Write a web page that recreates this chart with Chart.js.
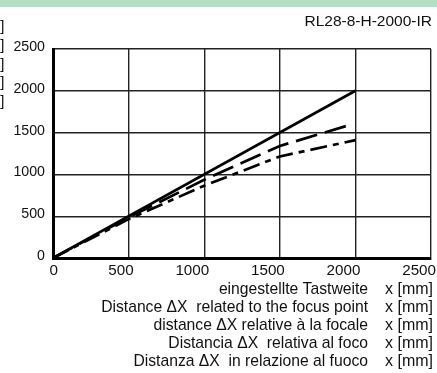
<!DOCTYPE html>
<html>
<head>
<meta charset="utf-8">
<script src="https://cdn.jsdelivr.net/npm/chart.js@4"></script>
<style>
  html, body { margin: 0; padding: 0; background: #fff; }
  #wrap { width: 437px; height: 373px; position: relative; }
</style>
</head>
<body>
<div id="wrap"><canvas id="canvas"></canvas></div>
<script>
const Chart = window.Chart;

const title = "RL28-8-H-2000-IR";

// Kurven
const solidX = [0, 2000];
const solidY = [0, 2000];
const dashX = [0, 500, 1000, 1500, 1960];
const dashY = [0, 485, 935, 1340, 1590];
const dotX = [0, 500, 1000, 1500, 2000];
const dotY = [0, 465, 865, 1215, 1410];

const xTicks = [0, 500, 1000, 1500, 2000, 2500];
const yTicks = [0, 500, 1000, 1500, 2000, 2500];

const xLabels = [
    "eingestellte Tastweite",
    "Distance \u0394X  related to the focus point",
    "distance \u0394X relative \u00e0 la focale",
    "Distancia \u0394X  relativa al foco",
    "Distanza \u0394X  in relazione al fuoco",
];
const yLabels = ["y [mm]", "y [mm]", "y [mm]", "y [mm]", "y [mm]"];
const unit = "x [mm]";

const pts = (xs, ys) => xs.map((x, i) => ({ x, y: ys[i] }));

const fam = "'Liberation Sans', Arial, sans-serif";

const decor = {
    id: "decor",
    beforeDraw(chart) {
        const c = chart.ctx;
        c.save();
        c.fillStyle = "#fff";
        c.fillRect(0, 0, chart.width, chart.height);
        c.fillStyle = "#b3dfc5";
        c.fillRect(0, 0, chart.width, 7);
        c.restore();
    },
    afterDraw(chart) {
        const c = chart.ctx;
        c.save();
        c.fillStyle = "#111";
        c.font = "15.5px " + fam;
        c.textAlign = "right";
        c.textBaseline = "middle";
        c.fillText(title, 432, 22);

        // abgeschnittene y-Beschriftung links
        c.font = "15px " + fam;
        yLabels.forEach((t, i) => c.fillText(t, 4.5, 27 + i * 18.7));

        xLabels.forEach((t, i) => {
            const y = 290 + i * 18;
            c.font = "15.7px " + fam;
            c.textAlign = "right";
            c.fillText(t, 368, y);
            c.font = "16px " + fam;
            c.textAlign = "left";
            c.fillText(unit, 385, y);
        });
        c.restore();
    },
};

new Chart(document.getElementById("canvas"), {
    type: "scatter",
    data: {
        datasets: [
            {
                data: pts(solidX, solidY),
                showLine: true,
                borderColor: "#000",
                borderWidth: 2.7,
                pointRadius: 0,
            },
            {
                data: pts(dashX, dashY),
                showLine: true,
                borderColor: "#000",
                borderWidth: 2.7,
                borderDash: [22, 8],
                pointRadius: 0,
            },
            {
                data: pts(dotX, dotY),
                showLine: true,
                borderColor: "#000",
                borderWidth: 2.7,
                borderDash: [17, 6, 6, 6],
                pointRadius: 0,
            },
        ],
    },
    options: {
        responsive: true,
        maintainAspectRatio: false,
        animation: false,
        events: [],
        plugins: {
            legend: { display: false },
            tooltip: { enabled: false },
        },
        layout: {
            padding: { left: 0, right: 6, top: 49, bottom: 0 },
        },
        scales: {
            x: {
                type: "linear",
                min: 0,
                max: 2500,
                afterBuildTicks: (s) => { s.ticks = xTicks.map((v) => ({ value: v })); },
                afterFit: (s) => { s.height = 115; s.paddingLeft = 0; s.paddingRight = 0; },
                grid: { color: "#222", lineWidth: 1.4, drawTicks: false },
                border: { color: "#000", width: 3 },
                ticks: {
                    color: "#111",
                    padding: 4,
                    maxRotation: 0,
                    align: "end",
                    labelOffset: 5,
                    callback: (v) => String(v),
                    font: { family: fam, size: 15.2 },
                },
            },
            y: {
                type: "linear",
                min: 0,
                max: 2500,
                afterBuildTicks: (s) => { s.ticks = yTicks.map((v) => ({ value: v })); },
                afterFit: (s) => { s.width = 53; s.paddingTop = 0; s.paddingBottom = 0; },
                grid: { color: "#222", lineWidth: 1.4, drawTicks: false },
                border: { color: "#000", width: 3 },
                ticks: {
                    color: "#111",
                    padding: 8,
                    labelOffset: -2,
                    callback: (v) => String(v),
                    font: { family: fam, size: 14.2 },
                },
            },
        },
    },
    plugins: [decor],
});
</script>
</body>
</html>
